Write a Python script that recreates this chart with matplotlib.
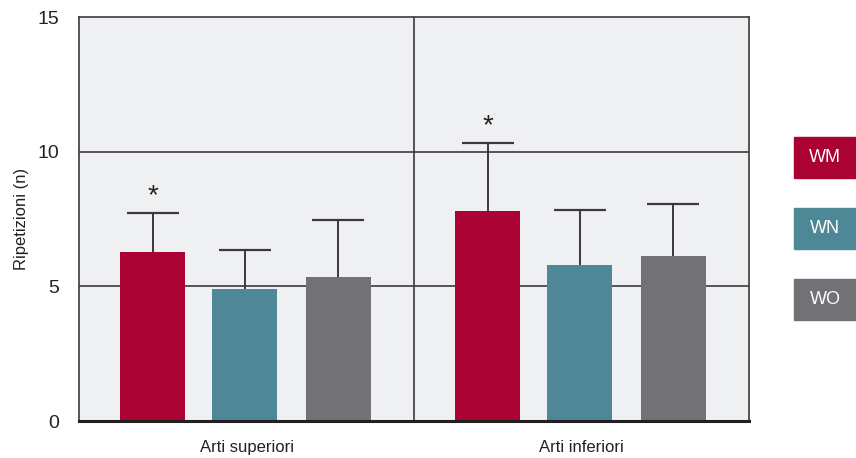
import matplotlib
matplotlib.use("Agg")
import matplotlib.pyplot as plt
from matplotlib.patches import Rectangle
import numpy as np

plt.rcParams['font.family'] = ['Liberation Sans Narrow', 'Liberation Sans', 'DejaVu Sans']

groups = ["Arti superiori", "Arti inferiori"]
series = ["WM", "WN", "WO"]
colors = ["#aa0233", "#4e8795", "#727175"]
means = {"WM": [6.27, 7.80], "WN": [4.90, 5.79], "WO": [5.35, 6.13]}
errs = {"WM": [1.45, 2.52], "WN": [1.45, 2.04], "WO": [2.11, 1.93]}
signif = {"WM": [True, True], "WN": [False, False], "WO": [False, False]}
yticks = [0, 5, 10, 15]

fig = plt.figure(figsize=(8.56, 4.58), dpi=100)
ax = fig.add_axes([79/856, 1-421/458, 670/856, 404/458])
ax.set_facecolor("#eff0f2")
ax.set_xlim(0, 2)
ax.set_ylim(0, 15)

offsets = [-0.28, -0.005, 0.274]
width = 0.194
capw = 0.155
for si, s in enumerate(series):
    for gi in range(len(groups)):
        x = gi + 0.5 + offsets[si]
        m = means[s][gi]
        top = m + errs[s][gi]
        ax.bar(x, m, width=width, color=colors[si], zorder=3)
        ax.vlines(x, m, top, color="#3a3a3c", lw=1.4, zorder=4)
        ax.hlines(top, x - capw/2, x + capw/2, color="#3a3a3c", lw=1.6, zorder=4)
        if signif[s][gi]:
            ax.text(x, top + 0.15, "*", ha='center', va='bottom',
                    fontsize=20, color="#222222", zorder=5)

for yv in [5, 10]:
    ax.axhline(yv, color="#3a3a3c", lw=1.2, zorder=1)
ax.axvline(1, color="#3a3a3c", lw=1.2, zorder=1)

for sp in ["left", "top", "right"]:
    ax.spines[sp].set_color("#3a3a3c")
    ax.spines[sp].set_linewidth(1.2)
ax.spines["bottom"].set_color("#231f20")
ax.spines["bottom"].set_linewidth(2.2)
ax.spines["bottom"].set_zorder(6)

ax.set_yticks(yticks)
ax.set_yticklabels([str(v) for v in yticks], fontsize=14, color="#222222")
ax.tick_params(axis='y', length=0, pad=14)
ax.set_xticks([0.5, 1.5])
ax.set_xticklabels(groups, fontsize=12, color="#222222")
ax.tick_params(axis='x', length=0, pad=14)
ax.set_ylabel("Ripetizioni (n)", fontsize=12, color="#222222", labelpad=6)

# legend boxes
leg_y = [137, 208, 279]
for si, s in enumerate(series):
    y0 = leg_y[si]
    fig.patches.append(Rectangle((794/856, 1-(y0+41)/458), 62/856, 41/458,
                                 transform=fig.transFigure, color=colors[si]))
    fig.text(825/856, 1-(y0+20.5)/458, s, ha='center', va='center', color="white", fontsize=13)

fig.savefig("out.png", dpi=100)
